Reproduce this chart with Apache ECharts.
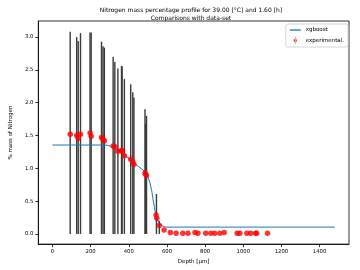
<!DOCTYPE html>
<html><head><meta charset="utf-8">
<script src="https://cdn.jsdelivr.net/npm/echarts@6/dist/echarts.min.js"></script>
<style>html,body{margin:0;padding:0;background:#fff}#c{width:360px;height:270px}</style>
</head><body><div id="c"></div>
<script>
// Title texts
var titleLines = ['Nitrogen mass percentage profile for 39.00 [°C] and 1.60 [h]', 'Comparisons with data-set'];
var xName = 'Depth [μm]';
var yName = '% mass of Nitrogen';
var xTicks = [0, 200, 400, 600, 800, 1000, 1200, 1400];
var yTicks = [0, 0.5, 1.0, 1.5, 2.0, 2.5, 3.0];

// xgboost prediction curve
var predDepth = [0, 100, 200, 270, 290, 310, 330, 350, 377, 400, 427, 450, 477, 495, 510, 520, 527, 535, 540, 550, 560, 572, 585, 600, 1480];
var predValue = [1.355, 1.355, 1.355, 1.355, 1.35, 1.33, 1.30, 1.26, 1.20, 1.15, 1.08, 1.03, 0.97, 0.90, 0.79, 0.66, 0.53, 0.40, 0.31, 0.22, 0.16, 0.13, 0.11, 0.104, 0.104];

// experimental points
var expDepth = [93, 127, 135, 147, 197, 203, 257, 265, 272, 318, 327, 343, 362, 365, 377, 410, 421, 427, 485, 488, 493, 543, 547, 560, 585,
  618, 648, 683, 710, 747, 762, 803, 830, 850, 877, 900, 968, 982, 1019, 1039, 1065, 1070, 1127];
var expValue = [1.52, 1.50, 1.46, 1.52, 1.54, 1.49, 1.47, 1.44, 1.42, 1.34, 1.33, 1.26, 1.27, 1.26, 1.19, 1.14, 1.10, 1.06, 0.93, 0.91, 0.89, 0.29, 0.24, 0.13, 0.06,
  0.02, 0.01, 0.01, 0.01, 0.02, 0.01, 0.01, 0.01, 0.01, 0.01, 0.02, 0.01, 0.01, 0.01, 0.01, 0.01, 0.01, 0.01];
// error bar extents (vertical lines)
var barDepth = [93, 127, 135, 147, 197, 203, 257, 265, 272, 318, 327, 343, 362, 365, 377, 410, 421, 427, 485, 488, 493, 545, 560];
var barLow = [0, 0, 0, 0, 0, 0, 0, 0, 0, 0, 0, 0, 0, 0, 0, 0, 0, 0, 0, 0, 0, 0, 0];
var barHigh = [3.08, 3.00, 2.94, 3.06, 3.07, 3.07, 2.93, 2.86, 2.84, 2.70, 2.62, 2.52, 2.56, 2.55, 2.36, 2.28, 2.16, 2.08, 1.90, 1.68, 1.80, 0.61, 0.20];

var font = 'DejaVu Sans';
var chart = echarts.init(document.getElementById('c'), null, {renderer: 'canvas'});
var predData = predDepth.map(function (d, i) { return [d, predValue[i]]; });
var expData = expDepth.map(function (d, i) { return [d, expValue[i]]; });
var barData = barDepth.map(function (d, i) { return [d, barLow[i], barHigh[i]]; });

chart.setOption({
  animation: false,
  backgroundColor: '#fff',
  title: {
    text: titleLines.join('\n'), left: 186, top: 1, textAlign: 'center',
    textStyle: {fontFamily: font, fontSize: 6, fontWeight: 'normal', color: '#000', lineHeight: 8.5}
  },
  legend: {
    orient: 'vertical', right: 12, top: 24,
    backgroundColor: '#fff', borderColor: '#ccc', borderWidth: 0.8, borderRadius: 2,
    padding: [3, 4, 3, 4], itemGap: 4, itemWidth: 11, itemHeight: 7,
    textStyle: {fontFamily: font, fontSize: 5.5, color: '#000'},
    data: [
      {name: 'xgboost', icon: 'path://M0,4.4h10v1.2h-10z', itemStyle: {color: '#1f77b4'}},
      {name: 'experimental.', icon: 'path://M4.6,0h0.8v10h-0.8z M5,2.6a2.4,2.4 0 1,0 0.001,0z', itemStyle: {color: '#ff0000'}}
    ]
  },
  grid: {left: 23, right: 11, top: 21, bottom: 22, show: true, borderColor: '#000', borderWidth: 0.8, backgroundColor: 'transparent'},
  xAxis: {
    type: 'value', min: -74, max: 1554,
    name: xName, nameLocation: 'middle', nameGap: 14,
    nameTextStyle: {fontFamily: font, fontSize: 5.5, color: '#000'},
    axisLine: {show: true, onZero: false, lineStyle: {color: '#000', width: 0.8}},
    axisTick: {show: true, inside: false, length: 3, lineStyle: {color: '#000', width: 0.8}, customValues: xTicks},
    axisLabel: {fontFamily: font, fontSize: 5.3, color: '#000', margin: 5, customValues: xTicks,
      formatter: function (v) { return String(v); }},
    splitLine: {show: false}
  },
  yAxis: {
    type: 'value', min: -0.155, max: 3.245,
    name: yName, nameLocation: 'middle', nameGap: 16, nameRotate: 90,
    nameTextStyle: {fontFamily: font, fontSize: 5.5, color: '#000'},
    axisLine: {show: true, onZero: false, lineStyle: {color: '#000', width: 0.8}},
    axisTick: {show: true, inside: false, length: 3, lineStyle: {color: '#000', width: 0.8}, customValues: yTicks},
    axisLabel: {fontFamily: font, fontSize: 5.3, color: '#000', margin: 5, customValues: yTicks,
      formatter: function (v) { return v.toFixed(1); }},
    splitLine: {show: false}
  },
  series: [
    {
      name: 'bars', type: 'custom', z: 1, silent: true,
      renderItem: function (params, api) {
        var p0 = api.coord([api.value(0), api.value(1)]);
        var p1 = api.coord([api.value(0), api.value(2)]);
        return {type: 'line', shape: {x1: p0[0], y1: p0[1], x2: p1[0], y2: p1[1]},
          style: {stroke: '#3a3a3a', lineWidth: 1.4}};
      },
      data: barData
    },
    {
      name: 'xgboost', type: 'line', z: 2, data: predData, symbol: 'none', smooth: false,
      lineStyle: {color: '#1f77b4', width: 1}, itemStyle: {color: '#1f77b4'}
    },
    {
      name: 'experimental.', type: 'scatter', z: 3, data: expData,
      symbol: 'circle', symbolSize: 5.5, itemStyle: {color: '#ff0000'}
    }
  ]
});
</script></body></html>
